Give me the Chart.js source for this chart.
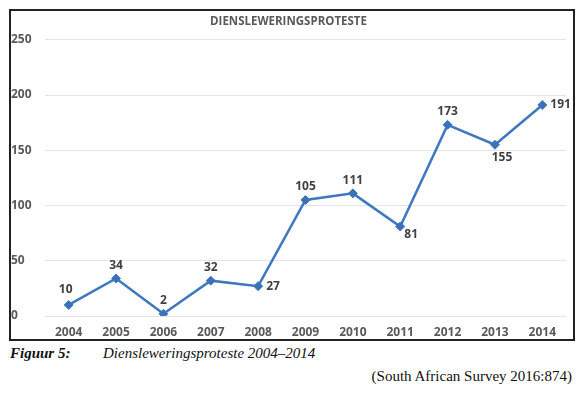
<!DOCTYPE html>
<html lang="af">
<head>
<meta charset="UTF-8">
<title>Diensleweringsproteste</title>
<script src="https://cdn.jsdelivr.net/npm/chart.js"></script>
<style>
  body { margin: 0; width: 576px; height: 393px; background: #fff; position: relative; overflow: hidden; }
  #raam { position: absolute; left: 9px; top: 9px; width: 562px; height: 328px; border: 2px solid #222; box-sizing: content-box; }
  #raam canvas { display: block; }
  .fig { position: absolute; left: 10px; top: 345px; font-family: "Liberation Serif", serif; font-style: italic; font-size: 15px; color: #111; }
  .fig b { display: inline-block; width: 93px; }
  .bron { position: absolute; right: 4px; top: 368px; font-family: "Liberation Serif", serif; font-size: 15px; color: #111; }
</style>
</head>
<body>
<div id="raam"><canvas id="grafiek" width="562" height="328"></canvas></div>
<div class="fig"><b>Figuur 5:</b>Diensleweringsproteste 2004–2014</div>
<div class="bron">(South African Survey 2016:874)</div>

<script>
  // data
  var jare = ["2004", "2005", "2006", "2007", "2008", "2009", "2010", "2011", "2012", "2013", "2014"];
  var proteste = [10, 34, 2, 32, 27, 105, 111, 81, 173, 155, 191];
  var yTicks = [0, 50, 100, 150, 200, 250];

  // waar elke etiket staan
  var etiketPlek = ["boLinks", "bo", "bo", "bo", "regs", "bo", "bo", "onderRegs", "bo", "onder", "regs"];

  var etikette = {
    id: 'etikette',
    afterDatasetsDraw: function (chart) {
      var ctx = chart.ctx;
      var meta = chart.getDatasetMeta(0);
      ctx.save();
      ctx.font = 'bold 12px "Open Sans", sans-serif';
      ctx.fillStyle = '#404040';
      ctx.textBaseline = 'middle';
      meta.data.forEach(function (pt, i) {
        var x = pt.x, y = pt.y, plek = etiketPlek[i];
        ctx.textAlign = 'center';
        if (plek == 'bo') { y -= 13; }
        else if (plek == 'boLinks') { y -= 15; x -= 3; }
        else if (plek == 'regs') { ctx.textAlign = 'left'; x += 8; }
        else if (plek == 'onderRegs') { x += 11; y += 8; }
        else if (plek == 'onder') { x += 7; y += 13; }
        ctx.fillText(proteste[i], x, y);
      });
      ctx.restore();
    }
  };

  var config = {
    type: 'line',
    data: {
      labels: jare,
      datasets: [{
        data: proteste,
        borderColor: '#3f78bf',
        backgroundColor: '#3a72b8',
        borderWidth: 2.5,
        pointStyle: 'rectRot',
        pointRadius: 4.5,
        pointBorderWidth: 1,
        tension: 0
      }]
    },
    options: {
      responsive: false,
      animation: false,
      layout: { padding: { left: 0, right: 7, top: 2, bottom: 0 } },
      plugins: {
        legend: { display: false },
        tooltip: { enabled: false },
        title: {
          display: true,
          text: 'DIENSLEWERINGSPROTESTE',
          color: '#595959',
          font: { family: '"Open Sans", sans-serif', size: 11.5, weight: 'bold' },
          padding: { top: 2, bottom: 11 }
        }
      },
      scales: {
        x: {
          offset: true,
          grid: { display: false },
          border: { display: false },
          afterFit: function (scale) { scale.height = 23; },
          ticks: {
            color: '#595959',
            padding: 1,
            maxRotation: 0,
            font: { family: '"Open Sans", sans-serif', size: 12, weight: 'bold' }
          }
        },
        y: {
          min: 0,
          max: 250,
          afterBuildTicks: function (scale) {
            scale.ticks = yTicks.map(function (v) { return { value: v }; });
          },
          afterFit: function (scale) { scale.width = 34; },
          grid: { color: '#e4e4e4', drawTicks: false },
          border: { display: false },
          ticks: {
            color: '#595959',
            crossAlign: 'far',
            padding: 4,
            font: { family: '"Open Sans", sans-serif', size: 12, weight: 'bold' }
          }
        }
      }
    },
    plugins: [etikette]
  };

  new Chart(document.getElementById('grafiek'), config);
</script>
</body>
</html>
